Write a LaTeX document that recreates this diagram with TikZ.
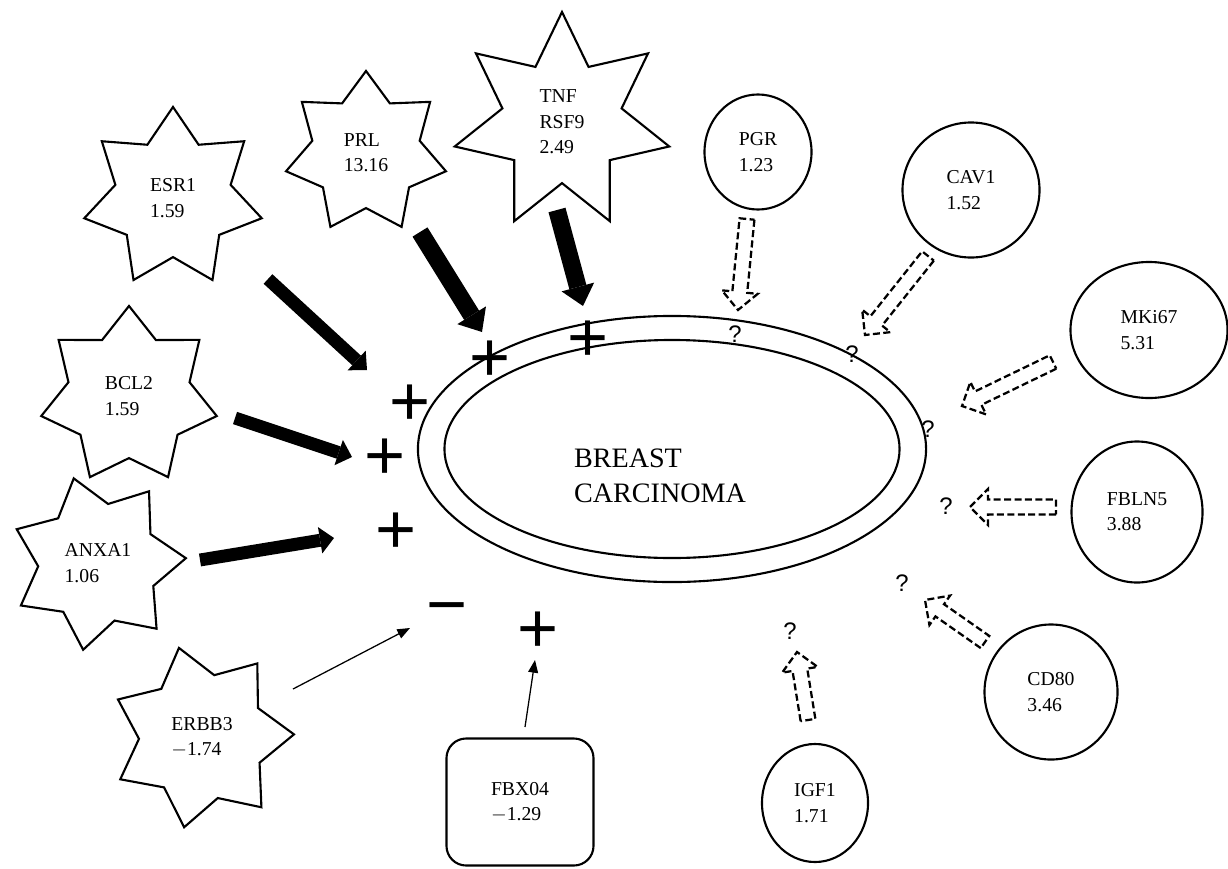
\documentclass[tikz,border=0pt]{standalone}
\usepackage{fontspec}
\setmainfont{Liberation Serif}
\newfontfamily\signfont{Liberation Sans}
\usetikzlibrary{shapes.geometric, arrows.meta, calc}
\tikzset{
  gene/.style={
    star,
    star points=7,
    draw=black,
    line width=1.5pt,
    inner sep=1pt,
    align=left,
    font=\fontsize{14}{18}\selectfont
  },
  marker/.style={
    ellipse,
    draw=black,
    line width=1.5pt,
    inner sep=0pt,
    align=left,
    font=\fontsize{14}{18}\selectfont
  },
  sign/.style={
    anchor=base,
    inner sep=0pt,
    font=\signfont\fontsize{50}{50}\selectfont
  },
  query/.style={
    inner sep=0pt,
    font=\signfont\fontsize{17}{17}\selectfont
  },
  push/.style={line width=9.2pt, -{Triangle[length=10pt,width=19pt,line width=0pt]}},
  bigpush/.style={line width=12.5pt, -{Triangle[length=14pt,width=24pt,line width=0pt]}},
  weak/.style={line width=0.9pt, -{Triangle[length=9pt,width=7pt]}},
  hollow/.style={
    line width=1.6pt,
    dash pattern=on 5pt off 2.4pt,
    line join=miter
  }
}
% dashed block arrow from #1 to #2
\newcommand{\hollowarrow}[2]{%
  \coordinate (hb) at ($(#2)!12.8pt!(#1)$);
  \draw[hollow] ($(#1)!5.3pt!90:(#2)$) -- ($(hb)!5.3pt!90:(#2)$)
    -- ($(hb)!12.8pt!90:(#2)$) -- (#2)
    -- ($(hb)!12.8pt!-90:(#2)$) -- ($(hb)!5.3pt!-90:(#2)$)
    -- ($(#1)!5.3pt!-90:(#2)$) -- cycle;
}

\begin{document}
\begin{tikzpicture}[x=0.025cm, y=-0.025cm]
  \useasboundingbox (0,0) rectangle (1228,868);

  % centre
  \node (outer) [ellipse, draw, line width=1.5pt, minimum width=12.7cm, minimum height=6.65cm] at (672,449) {};
  \node (inner) [ellipse, draw, line width=1.5pt, minimum width=11.375cm, minimum height=5.45cm] at (672,449) {};
  \node (bc) [align=left, font=\fontsize{20}{25}\selectfont] at (660,476) {BREAST\\CARCINOMA};

  % up-regulated, known effect
  \node (esr1) [gene, star point ratio=1.54, minimum size=4.55cm] at (173,198) {ESR1\\1.59};
  \node (prl) [gene, star point ratio=1.49, minimum size=4.1cm] at (366,153) {PRL\\13.16};
  \node (tnf) [gene, star point ratio=1.8, minimum size=5.5cm] at (562,122) {TNF\\RSF9\\2.49};
  \node (bcl2) [gene, star point ratio=1.45, minimum size=4.5cm] at (129,396) {BCL2\\1.59};
  \node (anxa1) [gene, star point ratio=1.47, minimum size=4.4cm, shape border rotate=16] at (98,563) {ANXA1\\1.06};
  \node (erbb3) [gene, star point ratio=1.46, minimum size=4.6cm, shape border rotate=14.5] at (202,737) {ERBB3\\$-$1.74};
  \node (fbx04) [rectangle, rounded corners=14pt, draw, line width=1.5pt, minimum width=3.675cm, minimum height=3.175cm, align=left, font=\fontsize{14}{18}\selectfont] at (520,802) {FBX04\\$-$1.29};

  % unknown effect
  \node (pgr) [marker, minimum width=2.675cm, minimum height=2.875cm] at (758,152) {PGR\\1.23};
  \node (cav1) [marker, minimum width=3.425cm, minimum height=3.375cm] at (971,190) {CAV1\\1.52};
  \node (mki67) [marker, minimum width=3.925cm, minimum height=3.4cm] at (1149,330) {MKi67\\5.31};
  \node (fbln5) [marker, minimum width=3.275cm, minimum height=3.525cm] at (1137,512) {FBLN5\\3.88};
  \node (cd80) [marker, minimum width=3.325cm, minimum height=3.375cm] at (1051,692) {CD80\\3.46};
  \node (igf1) [marker, minimum width=2.65cm, minimum height=2.95cm] at (815,803) {IGF1\\1.71};

  % signs
  \node (p1) [sign] at (410,425) {+};
  \node (p2) [sign] at (385,479) {+};
  \node (p3) [sign] at (396,553) {+};
  \node (p4) [sign] at (490,381) {+};
  \node (p5) [sign] at (588,361) {+};
  \node (m1) [sign] at (447,628) {−};
  \node (p6) [sign] at (538,652) {+};

  \node (q1) [query] at (735,334) {?};
  \node (q2) [query] at (852,354) {?};
  \node (q3) [query] at (928,429) {?};
  \node (q4) [query] at (946,506) {?};
  \node (q5) [query] at (902,583) {?};
  \node (q6) [query] at (790,631) {?};

  % arrow ends
  \coordinate (esr1-o) at (268,279);  \coordinate (esr1-i) at (367,370);
  \coordinate (prl-o) at (420,232);   \coordinate (prl-i) at (482,332);
  \coordinate (tnf-o) at (557,210);   \coordinate (tnf-i) at (583,306);
  \coordinate (bcl2-o) at (235,418);  \coordinate (bcl2-i) at (352,457);
  \coordinate (anxa1-o) at (200,560); \coordinate (anxa1-i) at (334,538);
  \coordinate (erbb3-o) at (293,689); \coordinate (erbb3-i) at (410,628);
  \coordinate (fbx04-o) at (525,727); \coordinate (fbx04-i) at (535,660);

  \coordinate (pgr-o) at (747,219);   \coordinate (pgr-i) at (738,310);
  \coordinate (cav1-o) at (928,256);  \coordinate (cav1-i) at (865,335);
  \coordinate (mki67-o) at (1053,362); \coordinate (mki67-i) at (962,406);
  \coordinate (fbln5-o) at (1056,507); \coordinate (fbln5-i) at (970,507);
  \coordinate (cd80-o) at (985,642);  \coordinate (cd80-i) at (925,600);
  \coordinate (igf1-o) at (808,720);  \coordinate (igf1-i) at (797,652);

  \draw[push] (esr1-o) -- (esr1-i);
  \draw[bigpush] (prl-o) -- (prl-i);
  \draw[bigpush] (tnf-o) -- (tnf-i);
  \draw[push] (bcl2-o) -- (bcl2-i);
  \draw[push] (anxa1-o) -- (anxa1-i);
  \draw[weak] (erbb3-o) -- (erbb3-i);
  \draw[weak] (fbx04-o) -- (fbx04-i);

  \hollowarrow{pgr-o}{pgr-i}
  \hollowarrow{cav1-o}{cav1-i}
  \hollowarrow{mki67-o}{mki67-i}
  \hollowarrow{fbln5-o}{fbln5-i}
  \hollowarrow{cd80-o}{cd80-i}
  \hollowarrow{igf1-o}{igf1-i}
\end{tikzpicture}
\end{document}
